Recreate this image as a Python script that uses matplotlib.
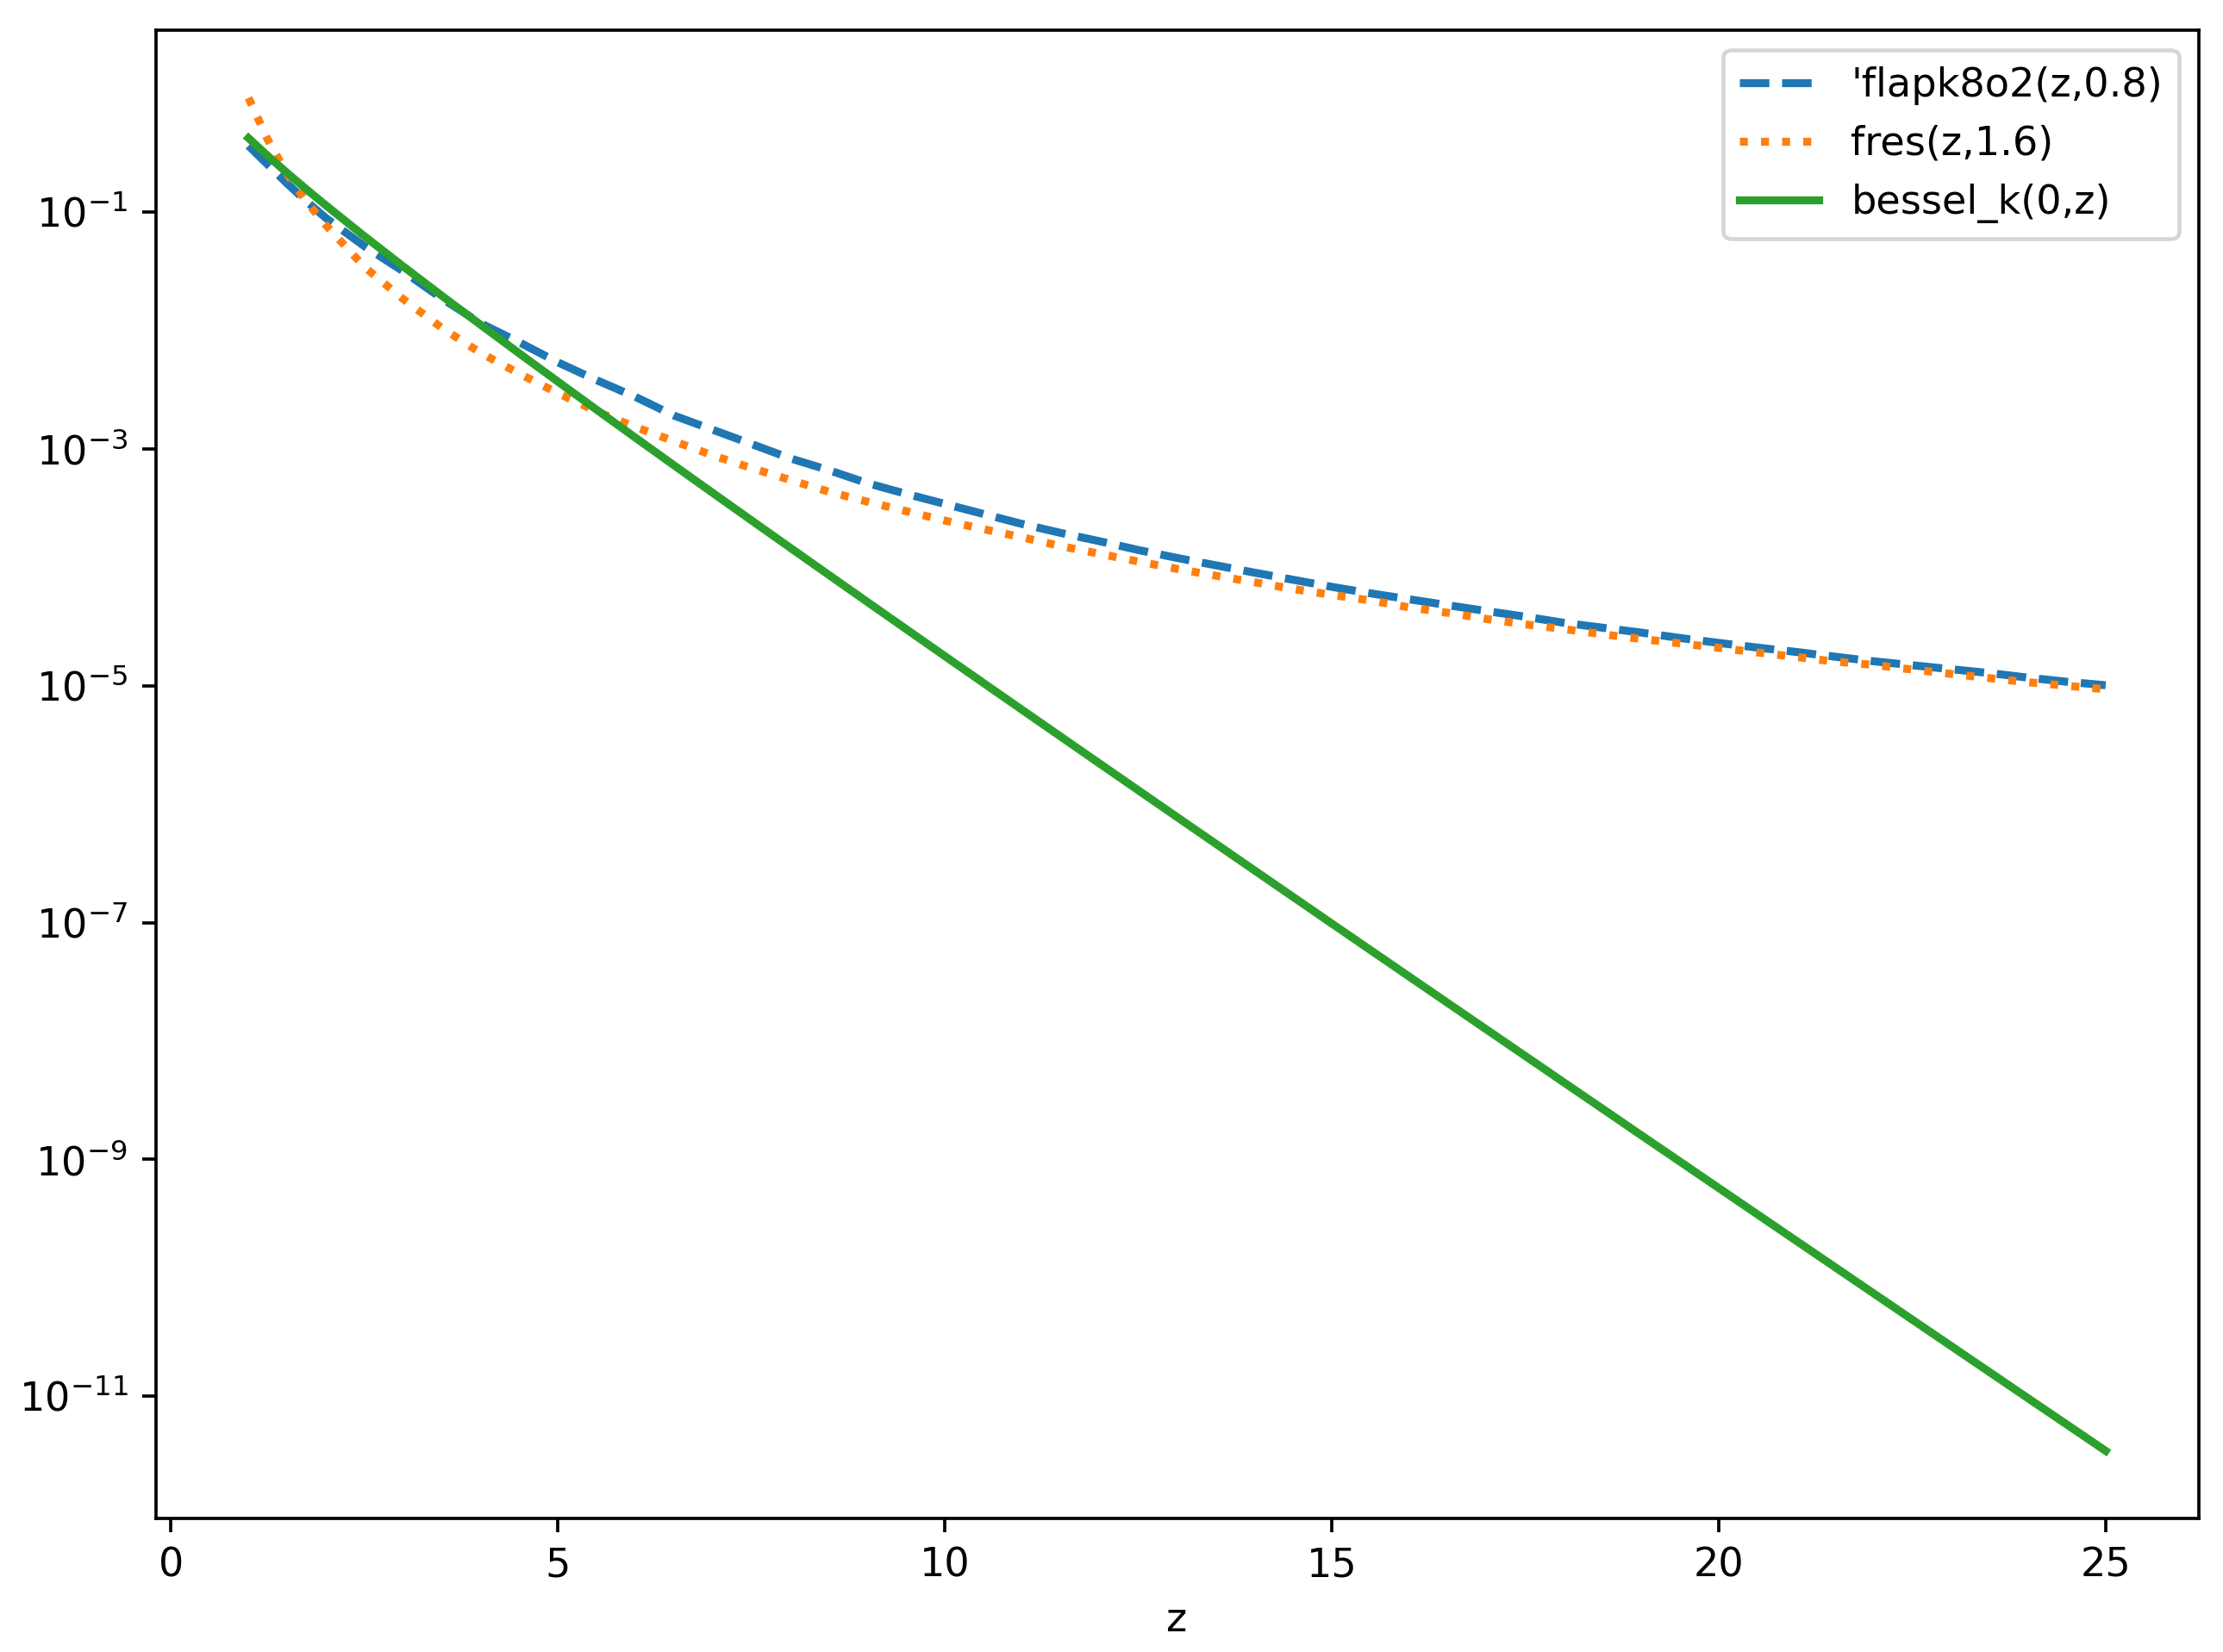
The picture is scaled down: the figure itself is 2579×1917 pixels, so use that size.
import numpy as np
import matplotlib
matplotlib.use("Agg")
import matplotlib.pyplot as plt
from matplotlib.ticker import NullLocator

# z grid shared by the two slow curves
z = [1, 1.25, 1.5, 1.75, 2, 2.5, 3, 3.5, 4, 4.5, 5, 5.5, 6, 6.5, 7, 7.5, 8, 8.5,
     9, 9.5, 10, 10.5, 11, 11.5, 12, 12.5, 13, 13.5, 14, 14.5, 15, 15.5, 16,
     16.5, 17, 17.5, 18, 18.5, 19, 19.5, 20, 20.5, 21, 21.5, 22, 22.5, 23,
     23.5, 24, 24.5, 25]

# 'flapk8o2(z,0.8)
flapk = [0.363, 0.251, 0.174, 0.123, 0.0891, 0.0513, 0.0316, 0.0186, 0.0115,
         0.00794, 0.00537, 0.00380, 0.00275, 0.00191, 0.00145, 0.00110,
         8.32e-4, 6.61e-4, 5.13e-4, 4.17e-4, 3.43e-4, 2.82e-4, 2.32e-4,
         1.95e-4, 1.66e-4, 1.40e-4, 1.20e-4, 1.04e-4, 9.02e-5, 7.85e-5,
         6.84e-5, 6.03e-5, 5.37e-5, 4.79e-5, 4.27e-5, 3.83e-5, 3.40e-5,
         3.09e-5, 2.81e-5, 2.53e-5, 2.30e-5, 2.10e-5, 1.93e-5, 1.76e-5,
         1.61e-5, 1.49e-5, 1.38e-5, 1.28e-5, 1.17e-5, 1.08e-5, 1.01e-5]

# fres(z,1.6)
fres = [0.92, 0.407, 0.209, 0.122, 0.0776, 0.0343, 0.0184, 0.0105, 0.00646,
        0.00432, 0.00295, 0.00207, 0.00153, 0.00116, 8.81e-4, 6.89e-4,
        5.47e-4, 4.35e-4, 3.58e-4, 2.98e-4, 2.48e-4, 2.10e-4, 1.79e-4,
        1.51e-4, 1.30e-4, 1.12e-4, 9.70e-5, 8.49e-5, 7.48e-5, 6.56e-5,
        5.85e-5, 5.25e-5, 4.59e-5, 4.13e-5, 3.66e-5, 3.30e-5, 3.01e-5,
        2.72e-5, 2.48e-5, 2.28e-5, 2.09e-5, 1.91e-5, 1.75e-5, 1.60e-5,
        1.50e-5, 1.37e-5, 1.26e-5, 1.16e-5, 1.07e-5, 1.00e-5, 9.33e-6]

# bessel_k(0,z)
z_k = [1, 1.25, 1.5, 1.75, 2, 2.5, 3, 3.5, 4, 4.5, 5, 5.5, 6, 6.5, 7, 7.5, 8,
       8.5, 9, 9.5, 10, 11, 12, 13, 14, 15, 16, 17, 18, 19, 20, 21, 22, 23,
       24, 25]
bessel = [0.4210, 0.2977, 0.2138, 0.1554, 0.1139, 0.06235, 0.03474, 0.01960,
          0.01116, 0.006400, 0.003691, 0.002139, 0.001244, 7.259e-4, 4.248e-4,
          2.492e-4, 1.465e-4, 8.626e-5, 5.088e-5, 3.006e-5, 1.778e-5,
          6.244e-6, 2.201e-6, 7.785e-7, 2.762e-7, 9.82e-8, 3.499e-8,
          1.250e-8, 4.469e-9, 1.600e-9, 5.74e-10, 2.062e-10, 7.413e-11,
          2.667e-11, 9.607e-12, 3.465e-12]

yticks = [1e-1, 1e-3, 1e-5, 1e-7, 1e-9, 1e-11]

DPI = 333
fig = plt.figure(figsize=(2579 / DPI, 1917 / DPI), dpi=DPI)
ax = fig.add_axes([0.0700, 0.0808, 0.9190, 0.9009])

ax.plot(z, flapk, "--", lw=2, label="'flapk8o2(z,0.8)")
ax.plot(z, fres, ":", lw=2, label="fres(z,1.6)")
ax.plot(z_k, bessel, "-", lw=2, label="bessel_k(0,z)")

ax.set_yscale("log")
ax.set_yticks(yticks)
ax.yaxis.set_minor_locator(NullLocator())
ax.set_xlabel("z")
ax.legend(loc="upper right")

fig.savefig("out.png", dpi=DPI)
